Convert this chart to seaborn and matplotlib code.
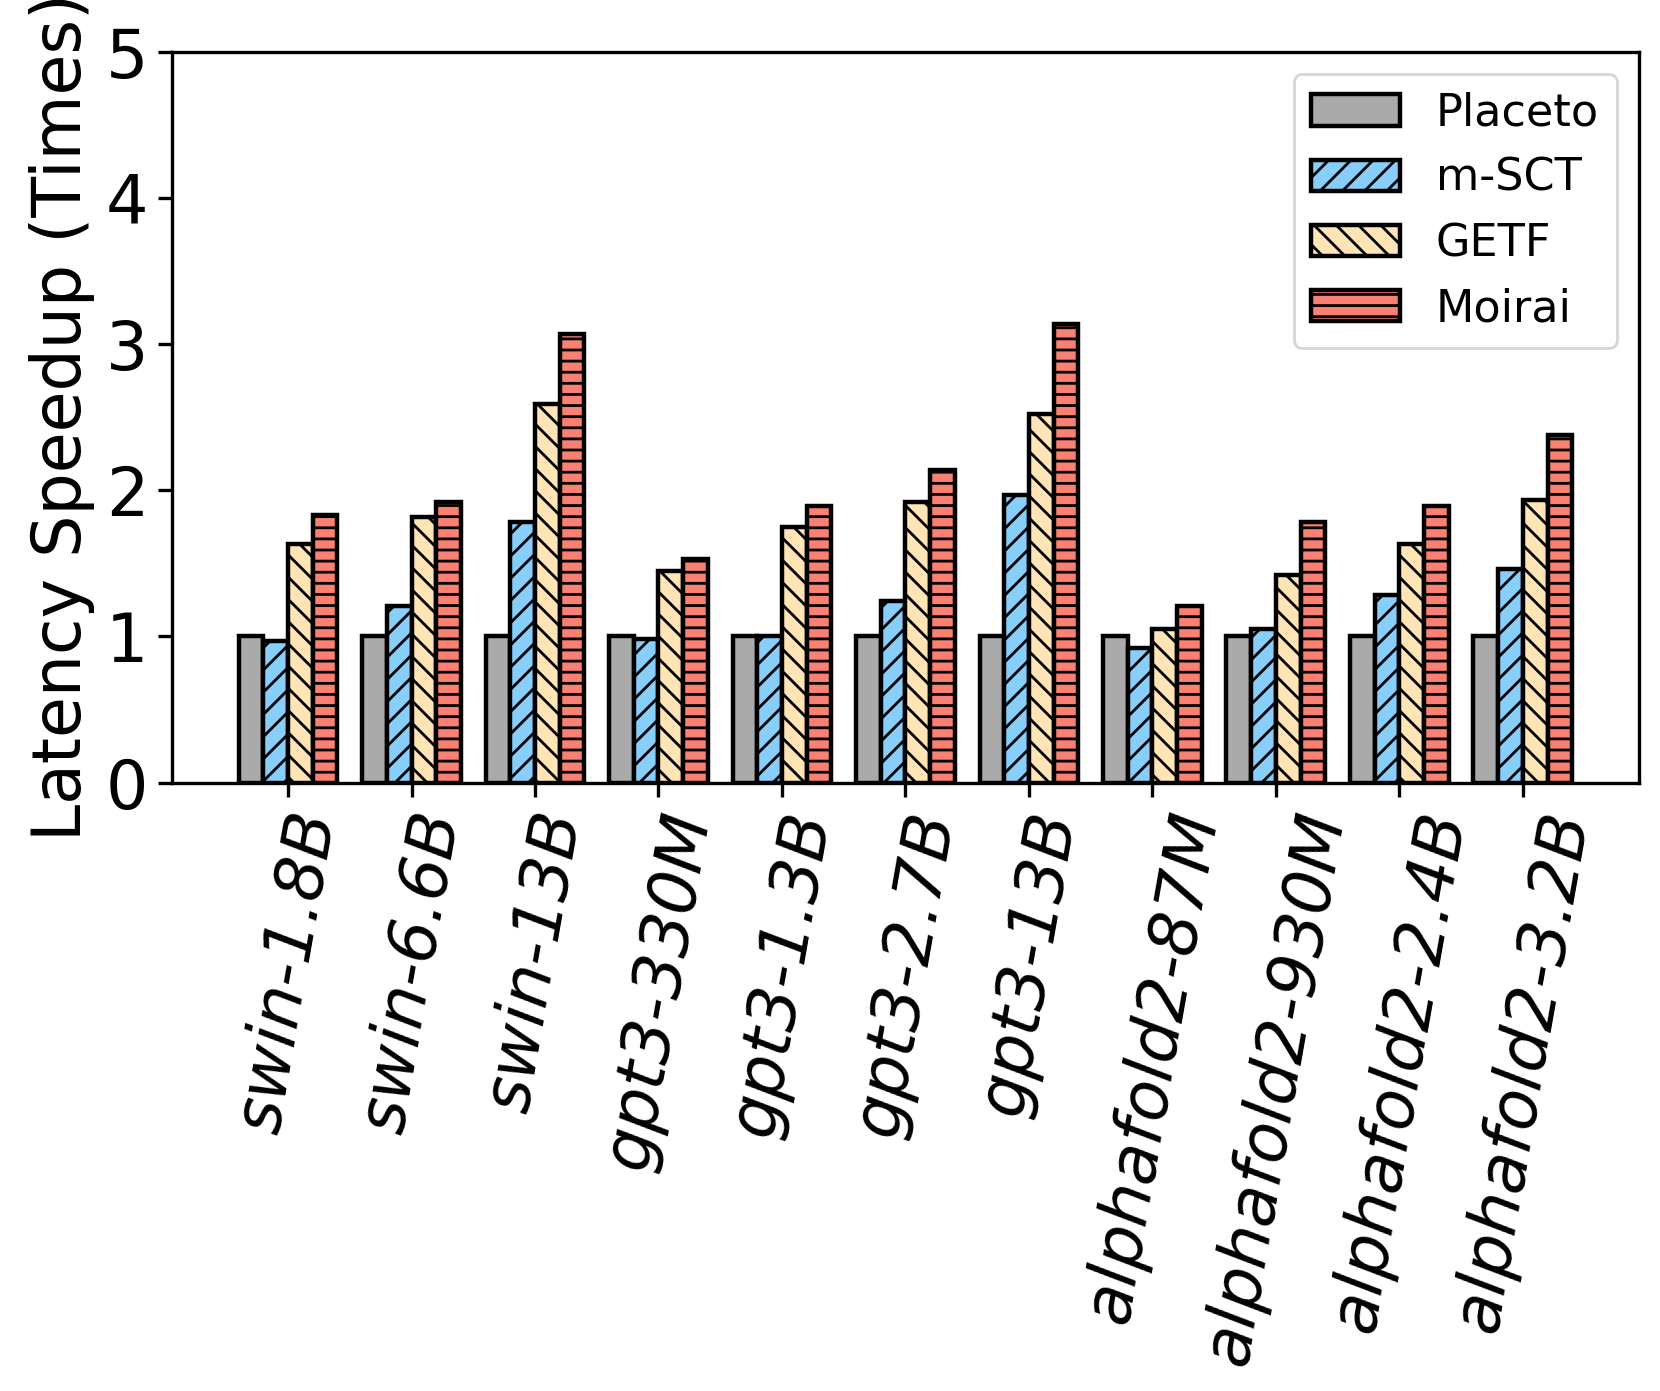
import matplotlib
matplotlib.use("Agg")
import matplotlib.pyplot as plt
import seaborn as sns
import pandas as pd

models = ["swin-1.8B", "swin-6.6B", "swin-13B", "gpt3-330M", "gpt3-1.3B",
          "gpt3-2.7B", "gpt3-13B", "alphafold2-87M", "alphafold2-930M",
          "alphafold2-2.4B", "alphafold2-3.2B"]
methods = ["Placeto", "m-SCT", "GETF", "Moirai"]
placeto = [1.00, 1.00, 1.00, 1.00, 1.00, 1.00, 1.00, 1.00, 1.00, 1.00, 1.00]
msct = [0.97, 1.21, 1.78, 0.98, 1.00, 1.24, 1.97, 0.92, 1.05, 1.28, 1.46]
getf = [1.63, 1.82, 2.59, 1.45, 1.75, 1.92, 2.52, 1.05, 1.42, 1.63, 1.93]
moirai = [1.83, 1.92, 3.07, 1.53, 1.89, 2.14, 3.14, 1.21, 1.78, 1.89, 2.38]
colors = ["#AAAAAA", "#87CEFA", "#FFE4B5", "#FA8072"]
hatches = ["", "///", "\\\\\\", "---"]

series = {"Placeto": placeto, "m-SCT": msct, "GETF": getf, "Moirai": moirai}
rows = []
for m in methods:
    for model, v in zip(models, series[m]):
        rows.append({"model": model, "method": m, "speedup": v})
df = pd.DataFrame(rows)

plt.rcParams["font.family"] = ["DejaVu Sans"]
plt.rcParams["hatch.linewidth"] = 1.0

fig = plt.figure(figsize=(8.3, 6.955), dpi=200)
ax = fig.add_axes([0.1036, 0.4374, 0.8837, 0.5255])

sns.barplot(data=df, x="model", y="speedup", hue="method", order=models,
            hue_order=methods, palette=colors, edgecolor="black",
            linewidth=1.6, width=0.8, saturation=1, legend=False, ax=ax,
            errorbar=None)

for cont, h in zip(ax.containers, hatches):
    for p in cont.patches:
        p.set_hatch(h)
        p.set_edgecolor("black")

ax.legend(ax.containers, methods, loc="upper right", fontsize=16,
          frameon=True)

n = len(models)
ax.set_xlim(-0.94, n - 1 + 0.94)
ax.set_ylim(0, 5)
ax.set_yticks([0, 1, 2, 3, 4, 5])
ax.set_xlabel("")
ax.set_ylabel("Latency Speedup (Times)", fontsize=24)
ax.tick_params(axis="both", labelsize=24, length=5, width=1.2)
for lbl in ax.get_xticklabels():
    lbl.set_rotation(80)
    lbl.set_fontstyle("italic")
    lbl.set_ha("center")
for s in ax.spines.values():
    s.set_linewidth(1.2)
    s.set_color("black")

fig.savefig("out.png", dpi=200)
